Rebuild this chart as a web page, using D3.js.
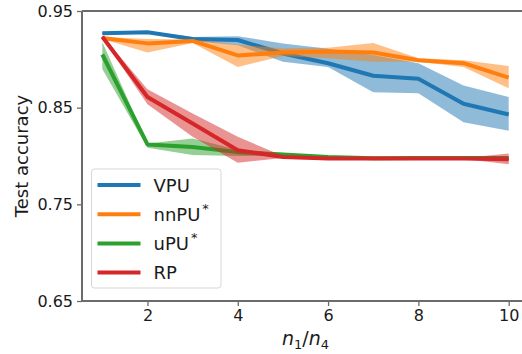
<!DOCTYPE html>
<html>
<head>
<meta charset="utf-8">
<script src="https://cdn.jsdelivr.net/npm/d3@7"></script>
<style>
  body { margin: 0; background: #fff; }
  svg { display: block; font-family: "DejaVu Sans", sans-serif; }
</style>
</head>
<body>
<svg id="chart"></svg>
<script>
// data
const ratios = [1, 2, 3, 4, 5, 6, 7, 8, 9, 10];
const yTicks = [0.65, 0.75, 0.85, 0.95];
const xTicks = [2, 4, 6, 8, 10];

const vpuMean = [0.927, 0.928, 0.921, 0.920, 0.906, 0.896, 0.883, 0.880, 0.854, 0.843];
const vpuLow  = [0.926, 0.927, 0.919, 0.9145, 0.8975, 0.892, 0.866, 0.865, 0.835, 0.826];
const vpuHigh = [0.928, 0.929, 0.923, 0.924, 0.9165, 0.911, 0.9045, 0.896, 0.873, 0.861];

const nnpuMean = [0.922, 0.9165, 0.919, 0.904, 0.907, 0.908, 0.907, 0.899, 0.896, 0.881];
const nnpuLow  = [0.921, 0.907, 0.917, 0.892, 0.9035, 0.901, 0.8975, 0.8975, 0.892, 0.870];
const nnpuHigh = [0.923, 0.921, 0.9205, 0.915, 0.9115, 0.912, 0.917, 0.901, 0.899, 0.893];

const upuMean = [0.905, 0.812, 0.8094, 0.804, 0.8015, 0.799, 0.7977, 0.798, 0.798, 0.798];
const upuLow  = [0.890, 0.8085, 0.801, 0.800, 0.800, 0.798, 0.7965, 0.797, 0.797, 0.797];
const upuHigh = [0.918, 0.813, 0.818, 0.8065, 0.803, 0.800, 0.799, 0.799, 0.799, 0.799];

const rpMean = [0.9234, 0.861, 0.8336, 0.806, 0.799, 0.7975, 0.7975, 0.7975, 0.7975, 0.7966];
const rpLow  = [0.9224, 0.8536, 0.8198, 0.793, 0.798, 0.797, 0.797, 0.797, 0.797, 0.7915];
const rpHigh = [0.9244, 0.869, 0.844, 0.8198, 0.800, 0.798, 0.798, 0.798, 0.798, 0.8025];

const series = [
  { name: "VPU", sup: false, color: "#1f77b4", mean: vpuMean, low: vpuLow, high: vpuHigh },
  { name: "nnPU", sup: true, color: "#ff7f0e", mean: nnpuMean, low: nnpuLow, high: nnpuHigh },
  { name: "uPU", sup: true, color: "#2ca02c", mean: upuMean, low: upuLow, high: upuHigh },
  { name: "RP", sup: false, color: "#d62728", mean: rpMean, low: rpLow, high: rpHigh }
];

const width = 522;
const height = 354;
const margin = { top: 11, right: -7, bottom: 53, left: 82 };
const axisColor = "#6b6b6b";

const svg = d3.select("#chart").attr("width", width).attr("height", height);

const x = d3.scaleLinear().domain([0.55, 10.45]).range([margin.left, width - margin.right]);
const y = d3.scaleLinear().domain([0.65, 0.95]).range([height - margin.bottom, margin.top]);

// bands + lines
const area = d3.area()
  .x((d, i) => x(ratios[i]))
  .y0(d => y(d[0]))
  .y1(d => y(d[1]));
const line = d3.line()
  .x((d, i) => x(ratios[i]))
  .y(d => y(d));

const plot = svg.append("g");
series.forEach(s => {
  const band = s.low.map((v, i) => [v, s.high[i]]);
  plot.append("path")
    .attr("d", area(band))
    .attr("fill", s.color)
    .attr("fill-opacity", 0.5);
  plot.append("path")
    .attr("d", line(s.mean))
    .attr("fill", "none")
    .attr("stroke", s.color)
    .attr("stroke-width", 4)
    .attr("stroke-linejoin", "round");
});

// axes
const gy = svg.append("g")
  .attr("transform", `translate(${margin.left},0)`)
  .call(d3.axisLeft(y).tickValues(yTicks).tickFormat(d3.format(".2f")).tickSize(5).tickPadding(4));
const gx = svg.append("g")
  .attr("transform", `translate(0,${height - margin.bottom})`)
  .call(d3.axisBottom(x).tickValues(xTicks).tickFormat(d3.format("d")).tickSize(5).tickPadding(4));
[gy, gx].forEach(g => {
  g.select(".domain").remove();
  g.selectAll(".tick line").attr("stroke", axisColor).attr("stroke-width", 1.3);
  g.selectAll(".tick text").attr("fill", "#1a1a1a").style("font-size", "16px").style("font-family", "DejaVu Sans");
});

// spines: left, bottom, top
const spines = svg.append("g").attr("stroke", axisColor).attr("stroke-width", 2).attr("fill", "none");
spines.append("line").attr("x1", margin.left).attr("x2", margin.left).attr("y1", y(0.95)).attr("y2", y(0.65));
spines.append("line").attr("x1", margin.left).attr("x2", width).attr("y1", y(0.65)).attr("y2", y(0.65));
spines.append("line").attr("x1", margin.left).attr("x2", width).attr("y1", y(0.95)).attr("y2", y(0.95));

// axis labels
svg.append("text")
  .attr("transform", `translate(28,${(y(0.95) + y(0.65)) / 2}) rotate(-90)`)
  .attr("text-anchor", "middle")
  .attr("fill", "#1a1a1a")
  .style("font-size", "18px")
  .text("Test accuracy");

const xl = svg.append("text")
  .attr("x", (margin.left + width - margin.right) / 2)
  .attr("y", 345)
  .attr("text-anchor", "middle")
  .attr("fill", "#1a1a1a")
  .style("font-size", "19px");
xl.append("tspan").style("font-style", "italic").text("n");
xl.append("tspan").attr("dy", 4).style("font-size", "13px").text("1");
xl.append("tspan").attr("dy", -4).text("/");
xl.append("tspan").style("font-style", "italic").text("n");
xl.append("tspan").attr("dy", 4).style("font-size", "13px").text("4");

// legend
const legend = svg.append("g").attr("transform", "translate(91.5,169)");
legend.append("rect")
  .attr("width", 129.5)
  .attr("height", 119)
  .attr("rx", 3)
  .attr("fill", "#fff")
  .attr("fill-opacity", 0.8)
  .attr("stroke", "#d6d6d6")
  .attr("stroke-width", 1);
series.forEach((s, i) => {
  const row = legend.append("g").attr("transform", `translate(0,${16 + i * 29.2})`);
  row.append("line")
    .attr("x1", 6).attr("x2", 49)
    .attr("stroke", s.color).attr("stroke-width", 4);
  const t = row.append("text")
    .attr("x", 62)
    .attr("y", 6.5)
    .attr("fill", "#1a1a1a")
    .style("font-size", "18px")
    .text(s.name);
  if (s.sup) {
    t.append("tspan").attr("dx", 2).attr("dy", -8).style("font-size", "13px").text("*");
  }
});
</script>
</body>
</html>
